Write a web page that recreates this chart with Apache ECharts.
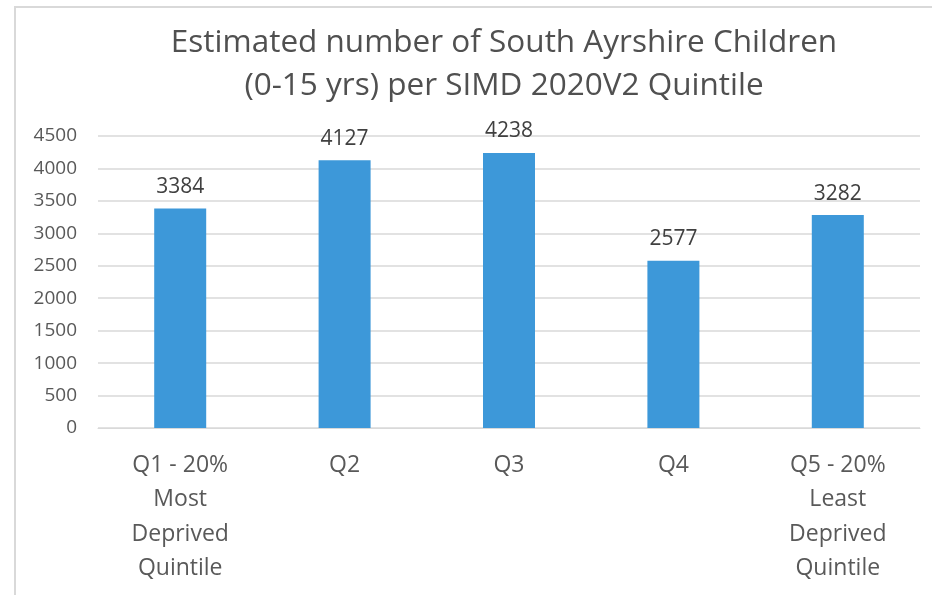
<!DOCTYPE html>
<html><head><meta charset="utf-8">
<script src="https://cdn.jsdelivr.net/npm/echarts@6/dist/echarts.min.js"></script>
<style>html,body{margin:0;padding:0;background:#fff}#c{width:932px;height:595px}</style>
</head><body><div id="c"></div>
<script>
const categories = ["Q1 - 20%\nMost\nDeprived\nQuintile", "Q2", "Q3", "Q4", "Q5 - 20%\nLeast\nDeprived\nQuintile"];
const values = [3384, 4127, 4238, 2577, 3282];
const yTicks = [0, 500, 1000, 1500, 2000, 2500, 3000, 3500, 4000, 4500];
const titleText = "Estimated number of South Ayrshire Children\n(0-15 yrs) per SIMD 2020V2 Quintile";

const FONT = 'Open Sans';
const chart = echarts.init(document.getElementById('c'), null, {renderer: 'canvas'});
chart.setOption({
  animation: false,
  backgroundColor: '#fff',
  graphic: [{type: 'rect', shape: {x: 15, y: 7, width: 930, height: 600}, style: {fill: 'none', stroke: '#d9d9d9', lineWidth: 2}, silent: true}],
  title: {
    text: titleText, left: 499, top: 17, textAlign: 'center',
    textStyle: {fontFamily: FONT, fontSize: 31.5, fontWeight: 'normal', color: '#505050', lineHeight: 43}
  },
  grid: {left: 98, right: 12, top: 136, bottom: 167, containLabel: false},
  xAxis: {
    type: 'category', data: categories,
    axisLine: {lineStyle: {color: '#d9d9d9', width: 1}},
    axisTick: {show: false},
    axisLabel: {fontFamily: FONT, fontSize: 23, color: '#595959', lineHeight: 34.5, margin: 20, interval: 0}
  },
  yAxis: {
    type: 'value', min: yTicks[0], max: yTicks[yTicks.length - 1], interval: 500,
    axisLine: {show: false}, axisTick: {show: false},
    splitLine: {lineStyle: {color: '#d9d9d9', width: 1.5}},
    axisLabel: {fontFamily: FONT, fontSize: 19, color: '#595959', margin: 21, formatter: v => String(v)}
  },
  series: [{
    type: 'bar', data: values, barWidth: 52,
    itemStyle: {color: '#3d98d9'},
    label: {show: true, position: 'top', distance: 11, fontFamily: FONT, fontSize: 21, color: '#404040'}
  }]
});
</script></body></html>
